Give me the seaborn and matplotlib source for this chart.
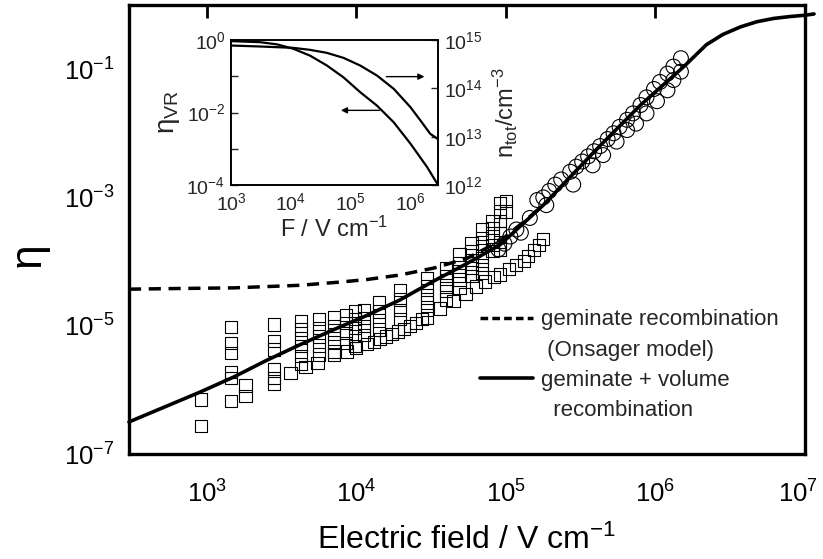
import matplotlib
matplotlib.use("Agg")
import matplotlib.pyplot as plt
from matplotlib import font_manager
from matplotlib.lines import Line2D
from matplotlib.ticker import NullLocator
from matplotlib.transforms import ScaledTranslation
import numpy as np
import pandas as pd
import seaborn as sns

# ---------------- data (log10 values) ----------------
solid_logF = [2.48, 2.95, 3.18, 3.40, 3.62, 3.85, 4.07, 4.29, 4.52, 4.74, 4.96,
              5.25, 5.61, 5.90, 6.19, 6.34, 6.45, 6.57, 6.68, 6.79, 6.90, 7.00, 7.06]
solid_logEta = [-6.50, -6.04, -5.80, -5.54, -5.30, -5.06, -4.84, -4.60, -4.30, -4.03, -3.74,
                -3.12, -2.24, -1.56, -0.96, -0.62, -0.46, -0.34, -0.26, -0.21, -0.18, -0.16, -0.14]

dash_logF = [2.48, 2.80, 3.18, 3.62, 3.89, 4.07, 4.29, 4.52, 4.74, 4.96, 5.12, 5.25]
dash_logEta = [-4.43, -4.42, -4.41, -4.37, -4.32, -4.28, -4.21, -4.10, -3.95, -3.68, -3.38, -3.12]

sq_col_logF = [2.96, 3.16, 3.26, 3.45, 3.63, 3.75, 3.85, 3.93, 3.99, 4.05,
               4.15, 4.29, 4.475, 4.60, 4.69, 4.77, 4.84, 4.91, 4.96, 5.00]
sq_col_logEta = [
    [-6.15, -6.56],
    [-5.02, -5.27, -5.43, -5.72, -5.81, -6.17],
    [-5.93, -6.09],
    [-4.98, -5.24, -5.37, -5.68, -5.81, -5.90],
    [-4.93, -5.06, -5.19, -5.32, -5.47, -5.60],
    [-4.90, -5.03, -5.17, -5.31, -5.45],
    [-4.87, -5.00, -5.13, -5.26, -5.40],
    [-4.83, -4.96, -5.11, -5.27],
    [-4.77, -4.90, -5.03, -5.16, -5.32],
    [-4.75, -4.88, -5.01, -5.14],
    [-4.64, -4.78, -4.92, -5.06],
    [-4.44, -4.59, -4.75, -4.90],
    [-4.26, -4.39, -4.52, -4.64, -4.75, -4.88],
    [-4.10, -4.23, -4.36, -4.46, -4.59],
    [-3.89, -4.02, -4.15, -4.28, -4.41],
    [-3.71, -3.84, -3.97, -4.10, -4.23],
    [-3.50, -3.63, -3.76, -3.92, -4.05, -4.18],
    [-3.37, -3.48, -3.61, -3.74, -3.84],
    [-3.09, -3.22, -3.37, -3.56, -3.69, -3.81],
    [-3.06, -3.22],
]
sq_low1_logF = [3.56, 3.66, 3.74, 3.85, 3.94, 4.00, 4.07, 4.12, 4.16, 4.20, 4.24, 4.28, 4.32, 4.36, 4.40, 4.44]
sq_low1_logEta = [-5.74, -5.64, -5.58, -5.45, -5.40, -5.35, -5.29, -5.25, -5.21, -5.17, -5.13, -5.09,
                  -5.05, -5.01, -4.96, -4.90]
sq_low2_logF = [4.56, 4.65, 4.73, 4.80, 4.86, 4.92, 4.96, 5.02, 5.07, 5.12, 5.15, 5.19, 5.22, 5.25]
sq_low2_logEta = [-4.73, -4.62, -4.50, -4.39, -4.31, -4.24, -4.20, -4.12, -4.05, -3.99, -3.91, -3.82,
                  -3.74, -3.65]

circ_up_logF = [5.03, 5.07, 5.16, 5.21, 5.25, 5.29, 5.33, 5.37, 5.43, 5.47, 5.51, 5.55, 5.59, 5.63,
                5.68, 5.72, 5.76, 5.81, 5.85, 5.90, 5.94, 5.99, 6.03, 6.08, 6.12, 6.17]
circ_up_logEta = [-3.61, -3.50, -3.32, -3.04, -3.00, -2.90, -2.80, -2.72, -2.60, -2.52, -2.44, -2.36,
                  -2.28, -2.20, -2.09, -2.00, -1.90, -1.79, -1.69, -1.56, -1.44, -1.31, -1.20, -1.07,
                  -0.96, -0.83]
circ_low_logF = [4.95, 4.99, 5.10, 5.27, 5.45, 5.58, 5.65, 5.74, 5.81, 5.87, 5.94, 6.01, 6.08, 6.12, 6.17]
circ_low_logEta = [-3.81, -3.72, -3.55, -3.12, -2.80, -2.50, -2.34, -2.13, -1.95, -1.85, -1.69, -1.50,
                   -1.33, -1.17, -1.04]

# inset curves
inset_vr_logF = [3.0, 3.49, 3.77, 4.04, 4.32, 4.60, 4.88, 5.16, 5.44, 5.72, 6.00, 6.28, 6.45]
inset_vr_logEta = [-0.03, -0.06, -0.12, -0.24, -0.43, -0.70, -1.03, -1.44, -1.81, -2.27, -2.86, -3.51, -3.97]
inset_n_logF = [3.0, 3.49, 4.04, 4.32, 4.60, 4.88, 5.16, 5.44, 5.72, 6.00, 6.17, 6.33, 6.47]
inset_n_logN = [14.886, 14.866, 14.838, 14.797, 14.735, 14.631, 14.472, 14.265, 13.99, 13.61, 13.33,
                13.06, 12.94]

# ticks / labels
main_xticks = [1e3, 1e4, 1e5, 1e6, 1e7]
main_xlabels = ['$10^{3}$', '$10^{4}$', '$10^{5}$', '$10^{6}$', '$10^{7}$']
main_yticks = [1e-7, 1e-6, 1e-5, 1e-4, 1e-3, 1e-2, 1e-1]
main_ylabels = ['$10^{-7}$', '', '$10^{-5}$', '', '$10^{-3}$', '', '$10^{-1}$']
in_xticks = [1e3, 1e4, 1e5, 1e6]
in_xlabels = ['$10^{3}$', '$10^{4}$', '$10^{5}$', '$10^{6}$']
in_yticks = [1e-4, 1e-3, 1e-2, 1e-1, 1e0]
in_ylabels = ['$10^{-4}$', '', '$10^{-2}$', '', '$10^{0}$']
in_y2ticks = [1e12, 1e13, 1e14, 1e15]
in_y2labels = ['$10^{12}$', '$10^{13}$', '$10^{14}$', '$10^{15}$']

legend_labels = ['geminate recombination', ' (Onsager model)', 'geminate + volume', '  recombination']

# ---------------- style ----------------
sns.set_theme(style='white')
names = {f.name for f in font_manager.fontManager.ttflist}
fam = 'Liberation Sans Narrow' if 'Liberation Sans Narrow' in names else 'Liberation Sans'
plt.rcParams['font.family'] = [fam, 'DejaVu Sans']
plt.rcParams['mathtext.fontset'] = 'custom'
plt.rcParams['mathtext.rm'] = fam
plt.rcParams['mathtext.it'] = fam
plt.rcParams['mathtext.default'] = 'regular'

fig = plt.figure(figsize=(8.23, 5.59), dpi=100)
ax = fig.add_axes([0.1563, 0.1878, 0.8219, 0.8033])

def pw(v):
    return [10 ** x for x in v]

# squares
sq_x, sq_y = [], []
for lf, col in zip(sq_col_logF, sq_col_logEta):
    for le in col:
        sq_x.append(10 ** lf)
        sq_y.append(10 ** le)
sq_x += pw(sq_low1_logF) + pw(sq_low2_logF)
sq_y += pw(sq_low1_logEta) + pw(sq_low2_logEta)
df_sq = pd.DataFrame({'F': sq_x, 'eta': sq_y})
df_ci = pd.DataFrame({'F': pw(circ_up_logF) + pw(circ_low_logF),
                      'eta': pw(circ_up_logEta) + pw(circ_low_logEta)})

sns.scatterplot(data=df_sq, x='F', y='eta', marker='s', s=78, facecolor='none',
                edgecolor='black', linewidth=0.8, ax=ax, zorder=2)
sns.scatterplot(data=df_ci, x='F', y='eta', marker='o', s=115, facecolor='none',
                edgecolor='black', linewidth=0.8, ax=ax, zorder=2)

df_dash = pd.DataFrame({'F': pw(dash_logF), 'eta': pw(dash_logEta)})
df_solid = pd.DataFrame({'F': pw(solid_logF), 'eta': pw(solid_logEta)})
sns.lineplot(data=df_dash, x='F', y='eta', color='black', lw=2.5, dashes=False,
             estimator=None, sort=False, ax=ax, zorder=3, linestyle=(0, (3.5, 2.2)))
sns.lineplot(data=df_solid, x='F', y='eta', color='black', lw=2.6,
             estimator=None, sort=False, ax=ax, zorder=4, clip_on=False)

ax.set_xscale('log')
ax.set_yscale('log')
ax.set_xlim(10 ** 2.478, 1e7)
ax.set_ylim(1e-7, 1e0)
ax.set_xticks(main_xticks)
ax.set_xticklabels(main_xlabels)
ax.set_yticks(main_yticks)
ax.set_yticklabels(main_ylabels)
ax.xaxis.set_minor_locator(NullLocator())
ax.yaxis.set_minor_locator(NullLocator())
ax.tick_params(which='both', direction='in', length=9, width=2, top=True, right=False,
               labelsize=18.5, colors='black')
ax.tick_params(axis='x', pad=19)
ax.tick_params(axis='y', pad=10)
for sp in ax.spines.values():
    sp.set_linewidth(2.4)
    sp.set_color('black')
ax.set_xlabel('Electric field / V cm$^{-1}$', fontsize=23, labelpad=12, color='black')
ax.set_ylabel('η', fontsize=32, color='black')
ax.yaxis.set_label_coords(-0.118, 0.445)

# keep the 10^7 label inside the canvas
last = ax.get_xticklabels()[-1]
last.set_transform(last.get_transform() + ScaledTranslation(-5 / 72, 0, fig.dpi_scale_trans))

handles = [Line2D([], [], color='black', lw=2.5, linestyle=(0, (2.2, 1.2))),
           Line2D([], [], linestyle='none'),
           Line2D([], [], color='black', lw=2.6),
           Line2D([], [], linestyle='none')]
leg = ax.legend(handles, legend_labels, loc='upper left', bbox_to_anchor=(0.52, 0.322),
                frameon=False, fontsize=16, handlelength=2.35, handletextpad=0.4,
                labelspacing=0.42, borderpad=0, borderaxespad=0)

# ---------------- inset ----------------
ain = fig.add_axes([0.2807, 0.669, 0.2515, 0.2594])
ain2 = ain.twinx()
df_vr = pd.DataFrame({'F': pw(inset_vr_logF), 'v': pw(inset_vr_logEta)})
df_n = pd.DataFrame({'F': pw(inset_n_logF), 'v': pw(inset_n_logN)})
sns.lineplot(data=df_vr, x='F', y='v', color='black', lw=1.6, estimator=None, sort=False, ax=ain)
sns.lineplot(data=df_n, x='F', y='v', color='black', lw=1.6, estimator=None, sort=False, ax=ain2)
for a in (ain, ain2):
    a.set_xscale('log')
    a.set_yscale('log')
    a.set_xlim(1e3, 10 ** 6.46)
    a.xaxis.set_minor_locator(NullLocator())
    a.yaxis.set_minor_locator(NullLocator())
    for sp in a.spines.values():
        sp.set_linewidth(1.2)
        sp.set_color('black')
ain.set_ylim(1e-4, 1e0)
ain2.set_ylim(1e12, 1e15)
ain.set_xticks(in_xticks)
ain.set_xticklabels(in_xlabels)
ain.set_yticks(in_yticks)
ain.set_yticklabels(in_ylabels)
ain2.set_yticks(in_y2ticks)
ain2.set_yticklabels(in_y2labels)
ain.tick_params(direction='in', length=5, width=1, labelsize=14, pad=4, top=False, right=False)
ain.tick_params(axis='x', pad=5)
ain2.tick_params(direction='in', length=5, width=1, labelsize=14, pad=4)
ain.set_xlabel('F / V cm$^{-1}$', fontsize=17, labelpad=2)
ain.set_ylabel('η$_{VR}$', fontsize=20, labelpad=3)
ain2.set_ylabel('n$_{tot}$/cm$^{-3}$', fontsize=17, labelpad=6)

ain.annotate('', xy=(10 ** 4.79, 10 ** -1.94), xytext=(10 ** 5.53, 10 ** -1.94),
             arrowprops=dict(arrowstyle='-|>', lw=1, color='black', mutation_scale=9))
ain.annotate('', xy=(10 ** 6.28, 10 ** -1.01), xytext=(10 ** 5.55, 10 ** -1.01),
             arrowprops=dict(arrowstyle='-|>', lw=1, color='black', mutation_scale=9))

fig.savefig('out.png', dpi=100)
